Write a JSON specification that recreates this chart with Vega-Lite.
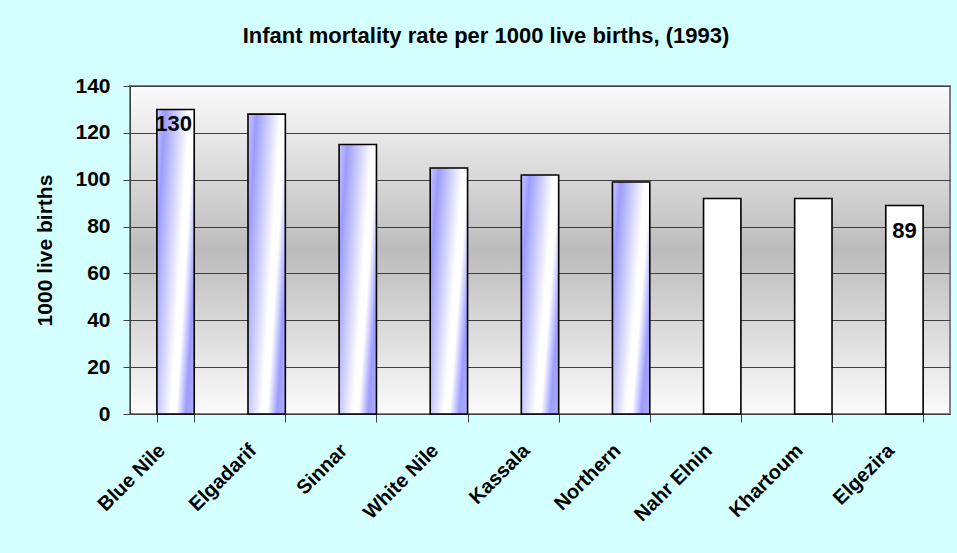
{
  "$schema": "https://vega.github.io/schema/vega-lite/v6.json",
  "width": 820,
  "height": 328,
  "autosize": {"type": "none"},
  "padding": {"left": 130, "top": 86, "right": 7, "bottom": 139},
  "background": "#d4ffff",
  "title": {
    "text": "Infant mortality rate per 1000 live births, (1993)",
    "font": "Liberation Sans",
    "fontSize": 22,
    "fontWeight": "bold",
    "color": "#000000",
    "anchor": "middle",
    "dx": -54,
    "offset": 27
  },
  "config": {
    "font": "Liberation Sans",
    "view": {
      "stroke": "#808080",
      "strokeWidth": 2,
      "fill": {
        "gradient": "linear",
        "x1": 0, "y1": 0, "x2": 0, "y2": 1,
        "stops": [
          {"offset": 0, "color": "#fbfbfb"},
          {"offset": 0.5, "color": "#bcbcbc"},
          {"offset": 1, "color": "#fbfbfb"}
        ]
      }
    }
  },
  "data": {
    "values": [
      {"region": "Blue Nile", "rate": 130, "kind": "blue"},
      {"region": "Elgadarif", "rate": 128, "kind": "blue"},
      {"region": "Sinnar", "rate": 115, "kind": "blue"},
      {"region": "White Nile", "rate": 105, "kind": "blue"},
      {"region": "Kassala", "rate": 102, "kind": "blue"},
      {"region": "Northern", "rate": 99, "kind": "blue"},
      {"region": "Nahr Elnin", "rate": 92, "kind": "white"},
      {"region": "Khartoum", "rate": 92, "kind": "white"},
      {"region": "Elgezira", "rate": 89, "kind": "white"}
    ]
  },
  "encoding": {
    "x": {
      "field": "region",
      "type": "nominal",
      "sort": null,
      "scale": {"paddingInner": 0.59, "paddingOuter": 0.295},
      "axis": {
        "title": null,
        "labelAngle": -45,
        "labelFont": "Liberation Sans",
        "labelFontSize": 20,
        "labelFontWeight": "bold",
        "labelColor": "#000000",
        "labelPadding": 18,
        "labelOffset": -21,
        "tickBand": "extent",
        "tickSize": 8,
        "tickColor": "#404040",
        "domainColor": "#404040",
        "grid": false
      }
    },
    "y": {
      "field": "rate",
      "type": "quantitative",
      "scale": {"domain": [0, 140], "nice": false},
      "axis": {
        "values": [0, 20, 40, 60, 80, 100, 120, 140],
        "title": "1000 live births",
        "titleFont": "Liberation Sans",
        "titleFontSize": 21,
        "titleFontWeight": "bold",
        "titleColor": "#000000",
        "titlePadding": 19,
        "labelFont": "Liberation Sans",
        "labelFontSize": 21,
        "labelFontWeight": "bold",
        "labelColor": "#000000",
        "labelPadding": 13,
        "tickSize": 7,
        "tickColor": "#404040",
        "domainColor": "#404040",
        "grid": true,
        "gridColor": "#404040",
        "gridWidth": 1
      }
    }
  },
  "layer": [
    {
      "mark": {"type": "bar", "stroke": "#000000", "strokeWidth": 1.6},
      "encoding": {
        "fill": {
          "condition": {
            "test": "datum.kind === 'blue'",
            "value": {
              "gradient": "linear",
              "x1": 0, "y1": 0, "x2": 1.2, "y2": 0.6,
              "stops": [
                {"offset": 0, "color": "#c8c8ff"},
                {"offset": 0.15, "color": "#9c9cff"},
                {"offset": 0.58, "color": "#ffffff"},
                {"offset": 0.68, "color": "#ffffff"},
                {"offset": 0.85, "color": "#9c9cff"},
                {"offset": 1, "color": "#b0b0ff"}
              ]
            }
          },
          "value": "#ffffff"
        }
      }
    },
    {
      "transform": [{"filter": "datum.region === 'Blue Nile'"}],
      "mark": {"type": "text", "baseline": "top", "dy": 5, "dx": -2, "fontSize": 22, "fontWeight": "bold", "color": "#000000", "font": "Liberation Sans"},
      "encoding": {"text": {"field": "rate", "type": "quantitative"}}
    },
    {
      "transform": [{"filter": "datum.region === 'Elgezira'"}],
      "mark": {"type": "text", "baseline": "top", "dy": 16, "fontSize": 22, "fontWeight": "bold", "color": "#000000", "font": "Liberation Sans"},
      "encoding": {"text": {"field": "rate", "type": "quantitative"}}
    }
  ]
}
